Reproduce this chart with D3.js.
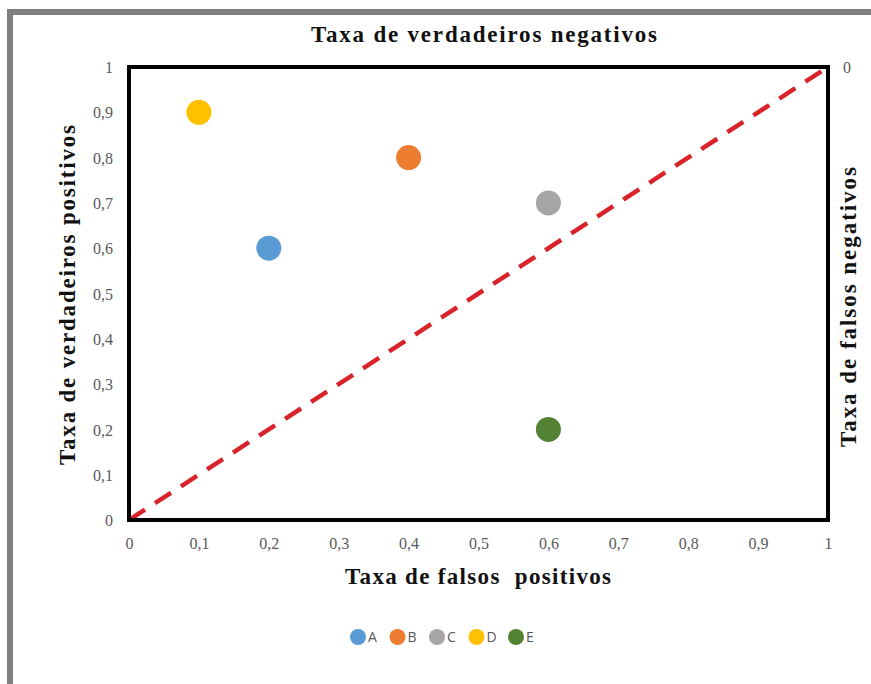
<!DOCTYPE html>
<html>
<head>
<meta charset="utf-8">
<script src="https://cdn.jsdelivr.net/npm/d3@7"></script>
<style>
  html, body { margin: 0; padding: 0; background: #fff; }
  svg { display: block; }
</style>
</head>
<body>
<svg id="chart" width="871" height="684"></svg>
<script>
// Classifiers plotted in ROC space
const classifiers = ["A", "B", "C", "D", "E"];
const falsePositiveRate = [0.2, 0.4, 0.6, 0.1, 0.6];
const truePositiveRate = [0.6, 0.8, 0.7, 0.9, 0.2];
const pointColors = ["#5B9BD5", "#ED7D31", "#A5A5A5", "#FFC000", "#548235"];

const tickValues = [0, 0.1, 0.2, 0.3, 0.4, 0.5, 0.6, 0.7, 0.8, 0.9, 1];
const rightTickValues = [0];

const titleTop = "Taxa de verdadeiros negativos";
const titleBottom = "Taxa de falsos  positivos";
const titleLeft = "Taxa de verdadeiros positivos";
const titleRight = "Taxa de falsos negativos";

const svg = d3.select("#chart");
const W = 871, H = 684;

// Outer frame (left and top edges)
svg.append("rect").attr("x", 0).attr("y", 0).attr("width", W).attr("height", H).attr("fill", "#fff");
svg.append("path")
  .attr("d", `M10,${H} L10,12 L${W},12`)
  .attr("fill", "none").attr("stroke", "#808080").attr("stroke-width", 6);

const plot = { left: 129, top: 67, right: 828, bottom: 520 };

const x = d3.scaleLinear().domain([0, 1]).range([plot.left, plot.right]);
const y = d3.scaleLinear().domain([0, 1]).range([plot.bottom, plot.top]);
const yRight = d3.scaleLinear().domain([1, 0]).range([plot.bottom, plot.top]);

const fmt = d => String(d).replace(".", ",");
const tickFont = "'Liberation Serif', 'DejaVu Serif', serif";

// Axes
const xAxis = svg.append("g")
  .attr("transform", `translate(0,${plot.bottom})`)
  .call(d3.axisBottom(x).tickValues(tickValues).tickFormat(fmt).tickSize(0).tickPadding(18));
const yAxis = svg.append("g")
  .attr("transform", `translate(${plot.left},0)`)
  .call(d3.axisLeft(y).tickValues(tickValues).tickFormat(fmt).tickSize(0).tickPadding(16));
const yAxisR = svg.append("g")
  .attr("transform", `translate(${plot.right},0)`)
  .call(d3.axisRight(yRight).tickValues(rightTickValues).tickFormat(fmt).tickSize(0).tickPadding(15));

[xAxis, yAxis, yAxisR].forEach(g => {
  g.select(".domain").remove();
  g.selectAll("text")
    .attr("fill", "#595959")
    .style("font-family", tickFont)
    .style("font-size", "16px");
});
yAxisR.selectAll("text").attr("dy", "0.35em");
yAxis.selectAll("text").attr("dy", "0.35em");

// Diagonal (random classifier)
svg.append("line")
  .attr("x1", x(0)).attr("y1", y(0))
  .attr("x2", x(1)).attr("y2", y(1))
  .attr("stroke", "#D9232B").attr("stroke-width", 4.5)
  .attr("stroke-dasharray", "19,12");

// Plot border
svg.append("rect")
  .attr("x", plot.left).attr("y", plot.top)
  .attr("width", plot.right - plot.left).attr("height", plot.bottom - plot.top)
  .attr("fill", "none").attr("stroke", "#000").attr("stroke-width", 4);

// Points
svg.append("g").selectAll("circle")
  .data(classifiers)
  .join("circle")
  .attr("cx", (d, i) => x(falsePositiveRate[i]))
  .attr("cy", (d, i) => y(truePositiveRate[i]))
  .attr("r", 12.5)
  .attr("fill", (d, i) => pointColors[i]);

// Axis titles
const titleFont = "'Liberation Serif', 'DejaVu Serif', serif";
function title(text, tx, ty, rot, len) {
  svg.append("text")
    .attr("transform", `translate(${tx},${ty}) rotate(${rot})`)
    .attr("x", -len / 2)
    .attr("textLength", len)
    .attr("lengthAdjust", "spacing")
    .attr("dominant-baseline", "middle")
    .style("font-family", titleFont)
    .style("font-weight", "bold")
    .style("font-size", "23px")
    .style("white-space", "pre")
    .attr("fill", "#111")
    .text(text);
}
title(titleTop, 484, 37, 0, 346);
title(titleBottom, 478, 579, 0, 266);
title(titleLeft, 70, 295, -90, 340);
title(titleRight, 851, 307, -90, 280);

// Legend
const legendX0 = 358, legendStep = 39.5, legendY = 637;
const legend = svg.append("g").selectAll("g")
  .data(classifiers)
  .join("g")
  .attr("transform", (d, i) => `translate(${legendX0 + i * legendStep},${legendY})`);
legend.append("circle").attr("r", 8).attr("fill", (d, i) => pointColors[i]);
legend.append("text")
  .attr("x", 10).attr("dy", "0.36em")
  .style("font-family", "'Open Sans', 'DejaVu Sans', sans-serif")
  .style("font-size", "14px")
  .attr("fill", "#595959")
  .text(d => d);
</script>
</body>
</html>
